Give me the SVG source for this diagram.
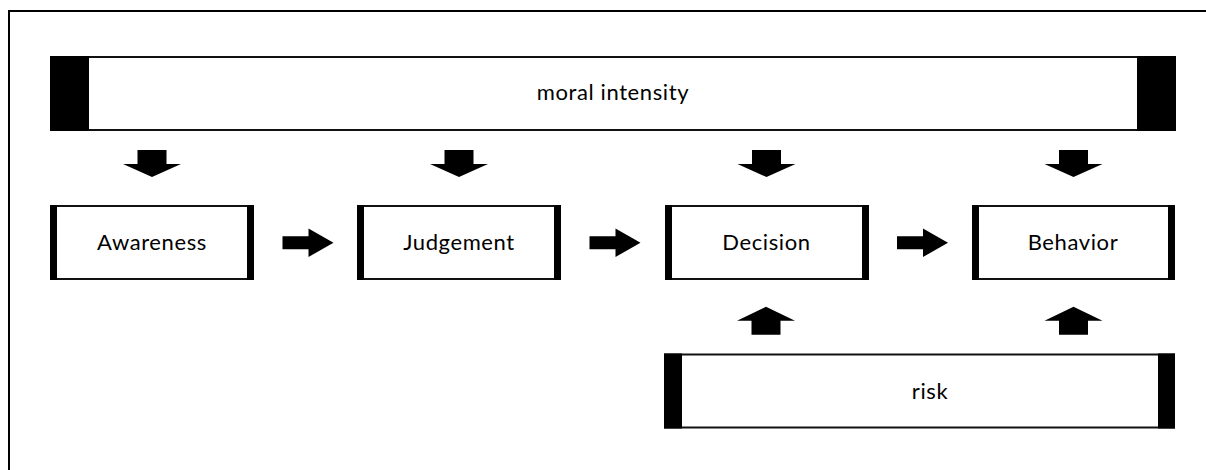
<svg xmlns="http://www.w3.org/2000/svg" width="1206" height="470" viewBox="0 0 1206 470">
  <style>
    .frame { fill: none; stroke: #000; stroke-width: 2; }
    .box { fill: #fff; stroke: #111; stroke-width: 2; }
    .blk { fill: #000; }
    .lbl { font-family: Lato, "Liberation Sans", sans-serif; font-size: 22px; fill: #000; text-anchor: middle; letter-spacing: 0.6px; }
    .arr { fill: #000; }
  </style>
  <defs>
    <path id="arrDown" d="M-14.5,0 H14.5 V14 H29 L0,27 L-29,14 H-14.5 Z"/>
    <path id="arrUp" d="M0,0 L29,14 H14.5 V28 H-14.5 V14 H-29 Z"/>
    <path id="arrRight" d="M0,-6.5 H26 V-14.3 L51,0 L26,14.3 V6.5 H0 Z"/>
  </defs>
  <rect class="frame" x="9" y="11" width="1300" height="500"/>

  <g id="moral-intensity">
    <rect class="box" x="51" y="57" width="1124" height="73"/>
    <rect class="blk" x="50" y="56" width="39" height="75"/>
    <rect class="blk" x="1137" y="56" width="39" height="75"/>
    <text class="lbl" x="613" y="100">moral intensity</text>
  </g>

  <g id="awareness">
    <rect class="box" x="51" y="206" width="202" height="73"/>
    <rect class="blk" x="50" y="205" width="7" height="75"/>
    <rect class="blk" x="247" y="205" width="7" height="75"/>
    <text class="lbl" x="152" y="249.5">Awareness</text>
  </g>

  <g id="judgement">
    <rect class="box" x="358" y="206" width="202" height="73"/>
    <rect class="blk" x="357" y="205" width="7" height="75"/>
    <rect class="blk" x="554" y="205" width="7" height="75"/>
    <text class="lbl" x="459" y="249.5">Judgement</text>
  </g>

  <g id="decision">
    <rect class="box" x="666" y="206" width="202" height="73"/>
    <rect class="blk" x="665" y="205" width="7" height="75"/>
    <rect class="blk" x="862" y="205" width="7" height="75"/>
    <text class="lbl" x="766.5" y="249.5">Decision</text>
  </g>

  <g id="behavior">
    <rect class="box" x="973" y="206" width="201" height="73"/>
    <rect class="blk" x="972" y="205" width="7" height="75"/>
    <rect class="blk" x="1168" y="205" width="7" height="75"/>
    <text class="lbl" x="1073" y="249.5">Behavior</text>
  </g>

  <g id="risk">
    <rect class="box" x="665" y="354.5" width="509" height="73"/>
    <rect class="blk" x="664" y="353.5" width="18" height="75"/>
    <rect class="blk" x="1158" y="353.5" width="17" height="75"/>
    <text class="lbl" x="930" y="399">risk</text>
  </g>

  <g id="connectors" class="arr">
    <use href="#arrDown" x="152" y="150"/>
    <use href="#arrDown" x="459" y="150"/>
    <use href="#arrDown" x="766.5" y="150"/>
    <use href="#arrDown" x="1073.5" y="150"/>
    <use href="#arrRight" x="282.5" y="242.7"/>
    <use href="#arrRight" x="589.5" y="242.7"/>
    <use href="#arrRight" x="897" y="242.7"/>
    <use href="#arrUp" x="766" y="306.7"/>
    <use href="#arrUp" x="1073.5" y="306.7"/>
  </g>
</svg>
